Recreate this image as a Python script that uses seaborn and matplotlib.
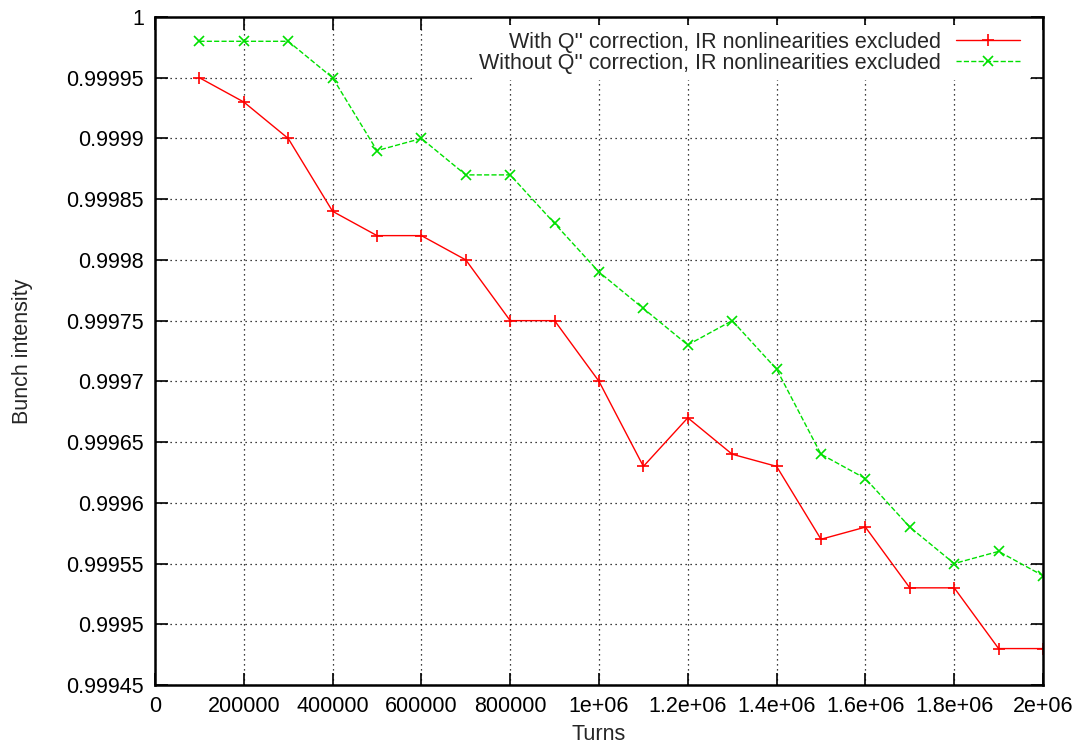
import numpy as np
import pandas as pd
import matplotlib
matplotlib.use("Agg")
import matplotlib.pyplot as plt
import seaborn as sns
from matplotlib.ticker import MultipleLocator, FuncFormatter

# data
turns = [100000, 200000, 300000, 400000, 500000, 600000, 700000, 800000, 900000, 1000000,
         1100000, 1200000, 1300000, 1400000, 1500000, 1600000, 1700000, 1800000, 1900000, 2000000]
with_corr = [0.99995, 0.99993, 0.99990, 0.99984, 0.99982, 0.99982, 0.99980, 0.99975, 0.99975, 0.99970,
             0.99963, 0.99967, 0.99964, 0.99963, 0.99957, 0.99958, 0.99953, 0.99953, 0.99948, 0.99948]
without_corr = [0.99998, 0.99998, 0.99998, 0.99995, 0.99989, 0.99990, 0.99987, 0.99987, 0.99983, 0.99979,
                0.99976, 0.99973, 0.99975, 0.99971, 0.99964, 0.99962, 0.99958, 0.99955, 0.99956, 0.99954]
labels = ["With Q'' correction, IR nonlinearities excluded",
          "Without Q'' correction, IR nonlinearities excluded"]

FS = 15.5

sns.set_style("ticks")
plt.rcParams["font.family"] = ["Liberation Sans", "DejaVu Sans"]
plt.rcParams["font.size"] = FS

fig = plt.figure(figsize=(10.78, 7.49), dpi=100)
ax = fig.add_axes([155 / 1078, 1 - 685 / 749, (1043 - 155) / 1078, (685 - 17) / 749])

sns.lineplot(x=turns, y=with_corr, ax=ax, color="#ff0000", linewidth=1,
             marker="+", markersize=9, markeredgewidth=1.2, markeredgecolor="#ff0000",
             label=labels[0])
sns.lineplot(x=turns, y=without_corr, ax=ax, color="#00e000", linewidth=1, linestyle="--",
             marker="x", markersize=7, markeredgewidth=1.2, markeredgecolor="#00e000",
             label=labels[1])

ax.set_xlim(0, 2000000)
ax.set_ylim(0.99945, 1.0)
ax.xaxis.set_major_locator(MultipleLocator(200000))
ax.yaxis.set_major_locator(MultipleLocator(0.00005))
ax.xaxis.set_major_formatter(FuncFormatter(lambda v, p: "%g" % v))
ax.yaxis.set_major_formatter(FuncFormatter(lambda v, p: "%g" % round(v, 6)))
ax.tick_params(direction="in", length=9, width=1.2, top=True, right=True,
               labelsize=FS, pad=8, colors="black")
ax.grid(True, linestyle=(0, (1, 3)), color="black", linewidth=0.9)
for s in ax.spines.values():
    s.set_linewidth(1.8)
    s.set_color("black")

ax.set_xlabel("Turns", fontsize=FS, labelpad=5)
ax.set_ylabel("Bunch intensity", fontsize=FS, labelpad=24)

leg = ax.legend(loc="upper right", bbox_to_anchor=(0.989, 0.997), frameon=True,
                markerfirst=False, handlelength=3.0, fontsize=FS, borderaxespad=0.3,
                borderpad=0.3, labelspacing=0.0, handletextpad=0.7)
leg.get_frame().set_facecolor("white")
leg.get_frame().set_edgecolor("none")
leg.get_frame().set_alpha(1.0)
leg.get_frame().set_boxstyle("square", pad=0)

fig.savefig("out.png", dpi=100)
